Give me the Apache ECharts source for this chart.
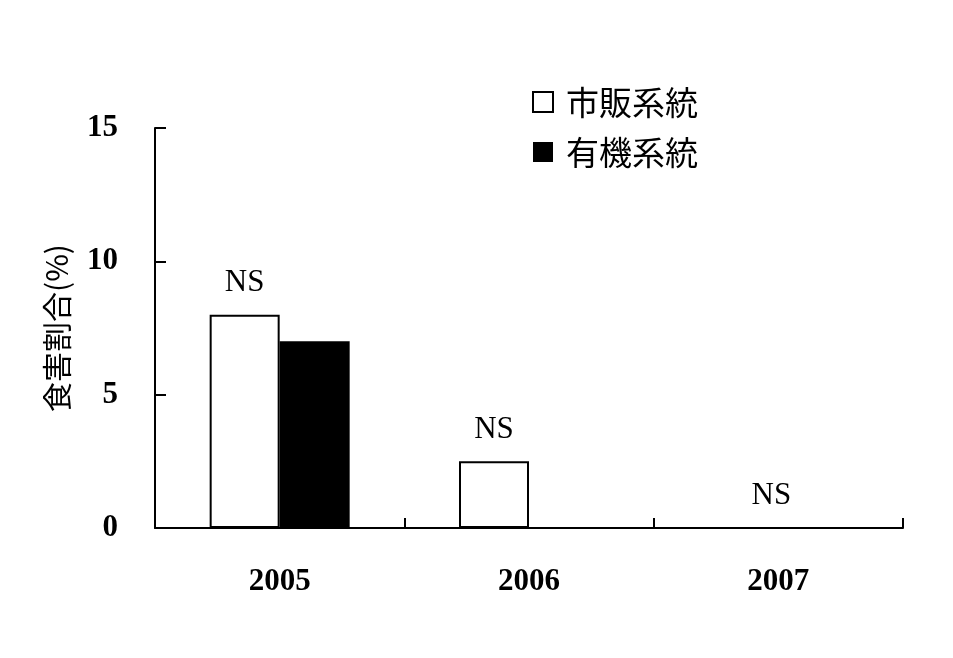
<!DOCTYPE html>
<html>
<head>
<meta charset="utf-8">
<script src="https://cdn.jsdelivr.net/npm/echarts@6/dist/echarts.min.js"></script>
<style>html,body{margin:0;padding:0;background:#fff;}#c{width:953px;height:658px;}</style>
</head>
<body>
<div id="c"></div>
<script>
var categories = ['2005', '2006', '2007'];
var commercial = [8, 2.5, 0];
var organic = [7, 0, 0];
var sigLabels = ['NS', 'NS', 'NS'];
var yTicks = [0, 5, 10, 15];

var chart = echarts.init(document.getElementById('c'));
var whiteData = commercial.map(function (v, i) {
  var item = { value: v, label: { formatter: sigLabels[i] } };
  if (i === 2) item.label.offset = [28, 0];
  return item;
});
chart.setOption({
  animation: false,
  backgroundColor: '#fff',
  grid: { left: 155, right: 50, top: 128, bottom: 130 },
  legend: {
    orient: 'vertical',
    left: 532,
    top: 85,
    padding: 0,
    itemWidth: 20,
    itemHeight: 20,
    itemGap: 16,
    icon: 'rect',
    textStyle: { fontFamily: 'Noto Sans CJK JP', fontSize: 33, color: '#000', lineHeight: 34, padding: [0, 0, 0, 8] },
    data: ['市販系統', '有機系統']
  },
  xAxis: {
    type: 'category',
    data: categories,
    axisLine: { show: true, lineStyle: { color: '#000', width: 2 } },
    axisTick: { show: true, inside: true, length: 10, lineStyle: { color: '#000', width: 2 } },
    axisLabel: { margin: 38, color: '#000', fontFamily: 'Liberation Serif', fontWeight: 'bold', fontSize: 31 }
  },
  yAxis: {
    type: 'value',
    min: yTicks[0],
    max: yTicks[yTicks.length - 1],
    interval: 5,
    name: '食害割合(%)',
    nameLocation: 'middle',
    nameRotate: 90,
    nameGap: 83,
    nameTextStyle: { fontFamily: 'Noto Sans CJK JP', fontSize: 30, color: '#000' },
    splitLine: { show: false },
    axisLine: { show: true, lineStyle: { color: '#000', width: 2 } },
    axisTick: { show: true, inside: true, length: 11, lineStyle: { color: '#000', width: 2 } },
    axisLabel: { margin: 37, color: '#000', fontFamily: 'Liberation Serif', fontWeight: 'bold', fontSize: 31 }
  },
  series: [
    {
      name: '市販系統',
      type: 'bar',
      data: whiteData,
      barWidth: 70,
      barGap: '0%',
      itemStyle: { color: '#fff', borderColor: '#000', borderWidth: 2 },
      label: { show: true, position: 'top', distance: 16, color: '#000', fontFamily: 'Liberation Serif', fontSize: 31 }
    },
    {
      name: '有機系統',
      type: 'bar',
      data: organic,
      barWidth: 70,
      barGap: '0%',
      itemStyle: { color: '#000' }
    }
  ]
});
</script>
</body>
</html>
